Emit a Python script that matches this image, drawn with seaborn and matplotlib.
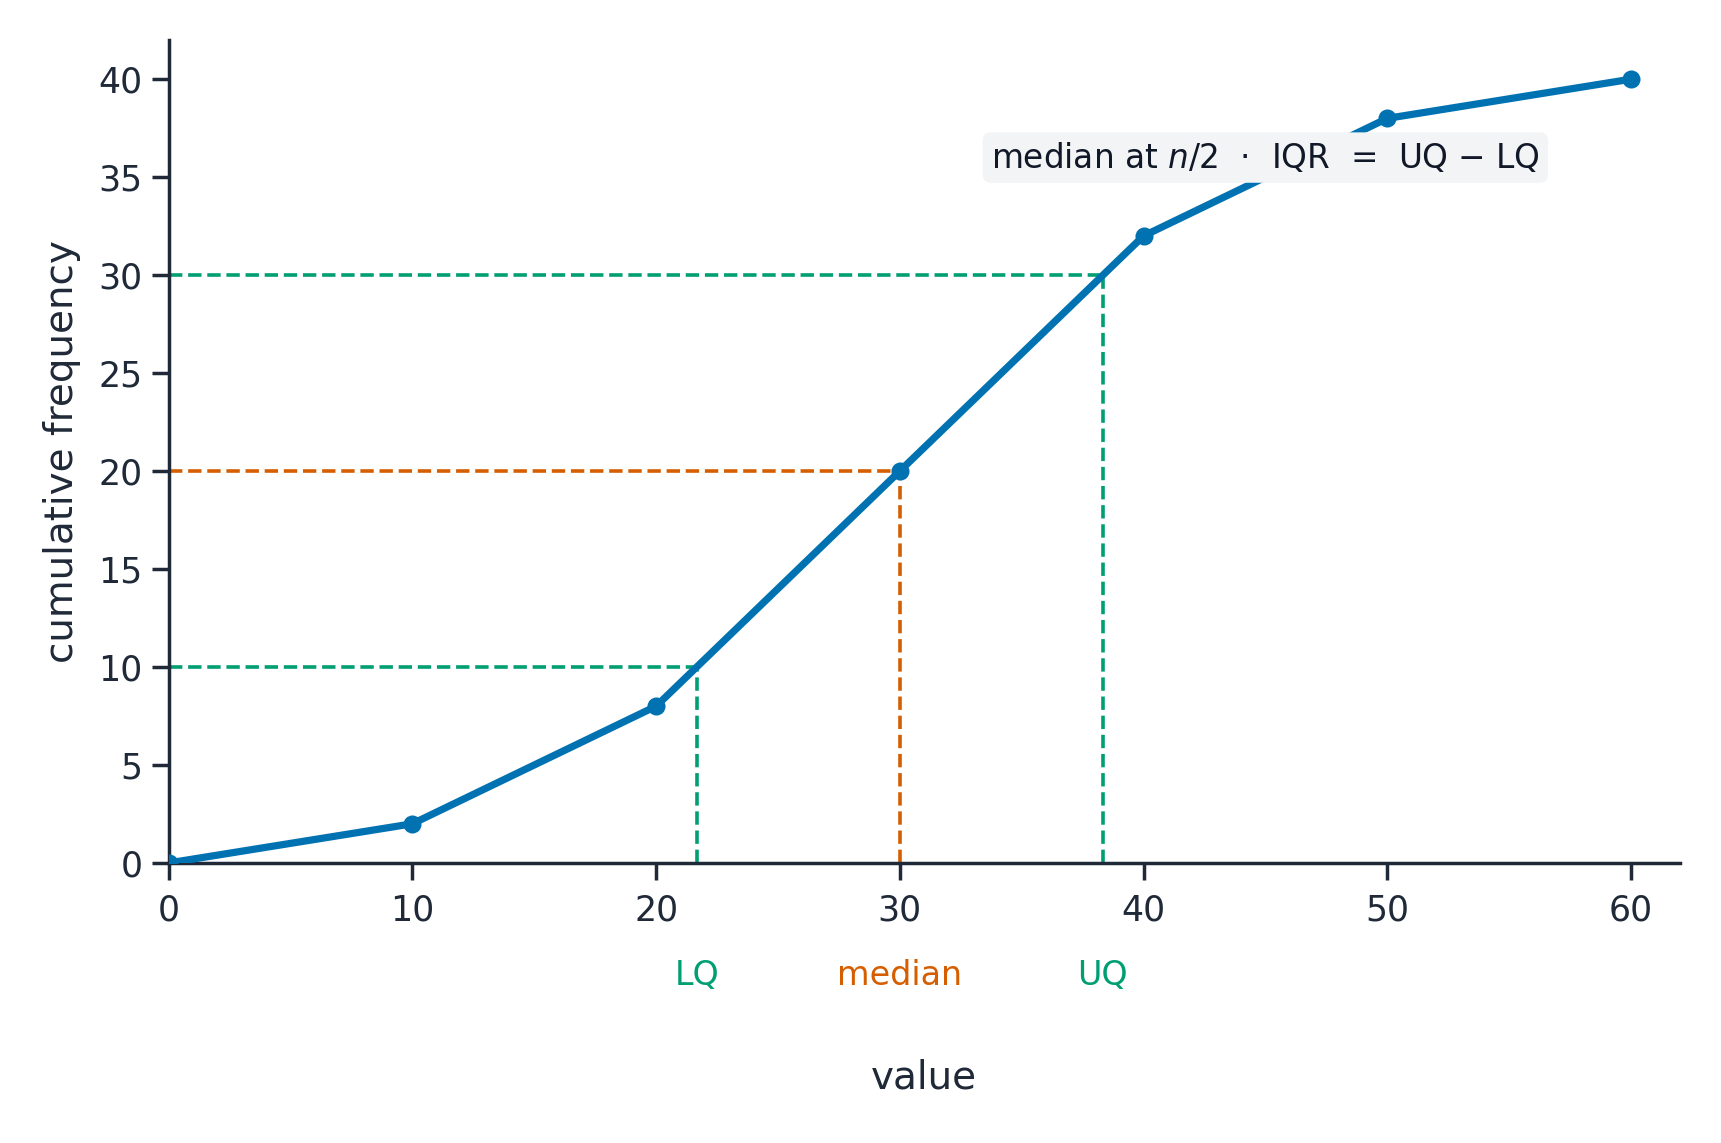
import numpy as np
import pandas as pd
import matplotlib
matplotlib.use("Agg")
import matplotlib.pyplot as plt
import matplotlib.transforms as mtransforms
import seaborn as sns

# Cumulative frequency data
values = [0, 10, 20, 30, 40, 50, 60]
cum_freq = [0, 2, 8, 20, 32, 38, 40]
n_total = 40

quartile_names = ["LQ", "median", "UQ"]
quartile_fracs = [0.25, 0.5, 0.75]
quartile_colors = ["#009E73", "#D55E00", "#009E73"]

ink = "#1f2937"

sns.set_theme(style="ticks")
plt.rcParams["font.family"] = ["DejaVu Sans"]
plt.rcParams.update({
    "axes.edgecolor": ink,
    "axes.labelcolor": ink,
    "xtick.color": ink,
    "ytick.color": ink,
    "text.color": ink,
})

df = pd.DataFrame({"value": values, "cumulative frequency": cum_freq})

fig, ax = plt.subplots(figsize=(8.605, 5.715), dpi=200)
fig.subplots_adjust(left=0.098, right=0.976, bottom=0.245, top=0.965)

sns.lineplot(data=df, x="value", y="cumulative frequency", ax=ax,
             color="#0072B2", linewidth=2.6, marker="o", markersize=6.5,
             markeredgewidth=0, zorder=3)

# quartile guide lines
trans = mtransforms.blended_transform_factory(ax.transData, ax.transAxes)
for name, frac, col in zip(quartile_names, quartile_fracs, quartile_colors):
    yq = frac * n_total
    xq = np.interp(yq, cum_freq, values)
    ax.plot([0, xq], [yq, yq], ls="--", color=col, lw=1.3, zorder=2)
    ax.plot([xq, xq], [0, yq], ls="--", color=col, lw=1.3, zorder=2)
    ax.text(xq, -0.137, name, transform=trans, ha="center", va="center",
            color=col, fontsize=12, clip_on=False)

ax.text(45, 36, "median at $n$/2  ·  IQR  =  UQ − LQ", ha="center", va="center",
        fontsize=11.8, color="#111827",
        bbox=dict(boxstyle="round,pad=0.25", fc="#f3f4f6", ec="none"))

ax.set_xlim(0, 62)
ax.set_ylim(0, 42)
ax.set_xticks(range(0, 61, 10))
ax.set_yticks(range(0, 41, 5))
ax.tick_params(labelsize=12.5)
ax.tick_params(axis="x", pad=5)
ax.set_xlabel("value", fontsize=14, labelpad=47)
ax.set_ylabel("cumulative frequency", fontsize=14, labelpad=6)
sns.despine(ax=ax)

fig.savefig("out.png", dpi=200)
